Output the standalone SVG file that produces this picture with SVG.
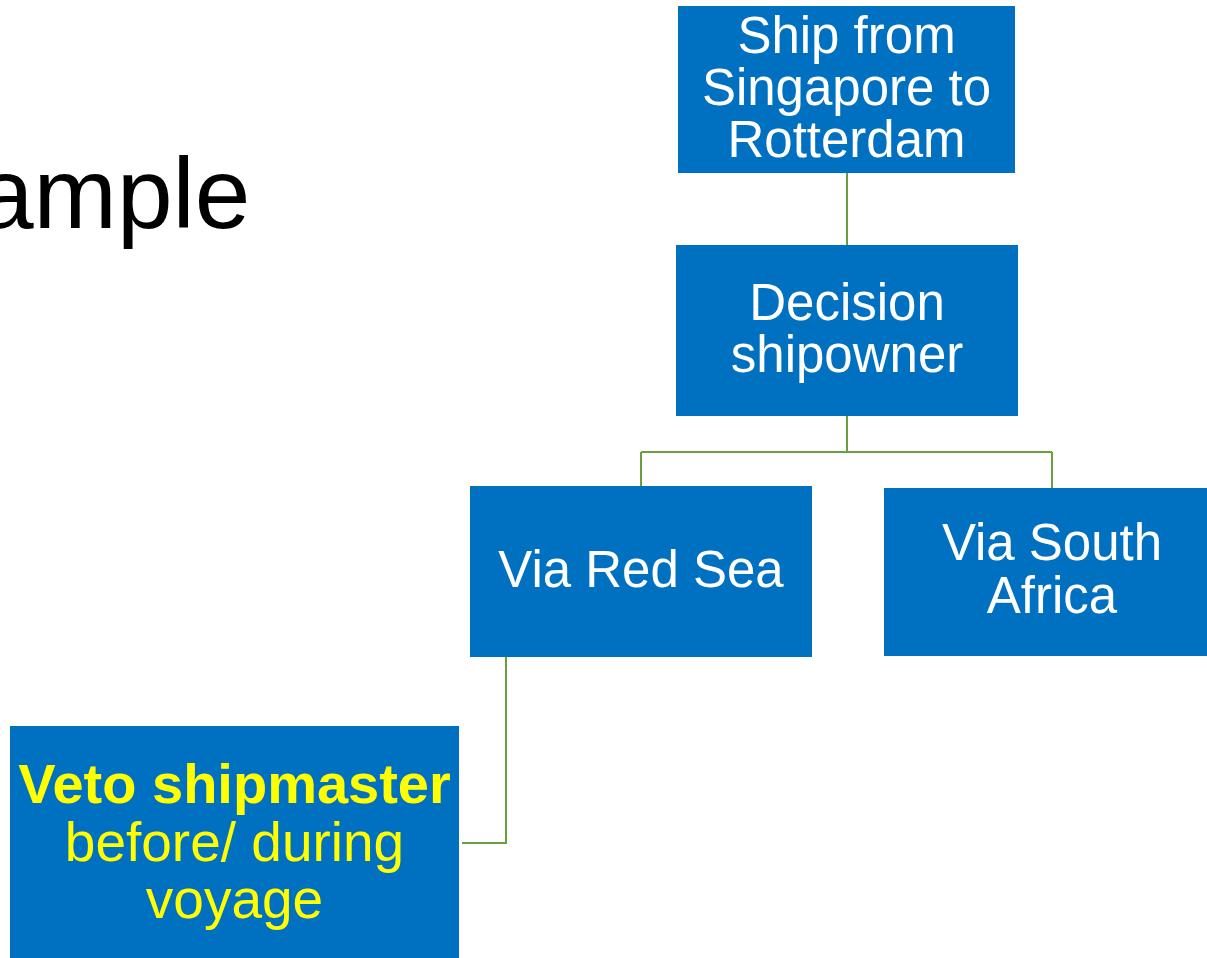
<svg xmlns="http://www.w3.org/2000/svg" width="1207" height="958" viewBox="0 0 1207 958">
<style>
.box{fill:#0070C0;}
.t{font-family:"Liberation Sans",Arial,sans-serif;font-size:51px;fill:#FFFFFF;text-anchor:middle;}
.y{font-family:"Liberation Sans",Arial,sans-serif;fill:#FFFF00;text-anchor:middle;}
.c{fill:none;stroke:#6A9F3E;stroke-width:2;}
</style>
<rect width="1207" height="958" fill="#FFFFFF"/>
<text x="-22" y="228" font-family="Liberation Sans, Arial, sans-serif" font-size="100" fill="#000000">ample</text>
<g id="connectors">
<path class="c" d="M847,173 V245"/>
<path class="c" d="M847,416 V452 M641,452 H1052 M641,452 V486 M1052,452 V488"/>
<path class="c" d="M506,657 V843 H462"/>
</g>
<g id="node-ship">
<rect class="box" x="678" y="6" width="337" height="167"/>
<text class="t" x="846.5" y="53">Ship from</text>
<text class="t" x="846.5" y="105">Singapore to</text>
<text class="t" x="846.5" y="157">Rotterdam</text>
</g>
<g id="node-decision">
<rect class="box" x="676" y="245" width="342" height="171"/>
<text class="t" x="847" y="320">Decision</text>
<text class="t" x="847" y="372">shipowner</text>
</g>
<g id="node-redsea">
<rect class="box" x="470" y="486" width="342" height="171"/>
<text class="t" x="641" y="587">Via Red Sea</text>
</g>
<g id="node-southafrica">
<rect class="box" x="884" y="488" width="336" height="168"/>
<text class="t" x="1052" y="560">Via South</text>
<text class="t" x="1052" y="613">Africa</text>
</g>
<g id="node-veto">
<rect class="box" x="10" y="726" width="449" height="240"/>
<text class="y" x="234.5" y="803" font-size="56" font-weight="bold">Veto shipmaster</text>
<text class="y" x="234.5" y="861" font-size="55">before/ during</text>
<text class="y" x="234.5" y="918" font-size="55">voyage</text>
</g>
</svg>
